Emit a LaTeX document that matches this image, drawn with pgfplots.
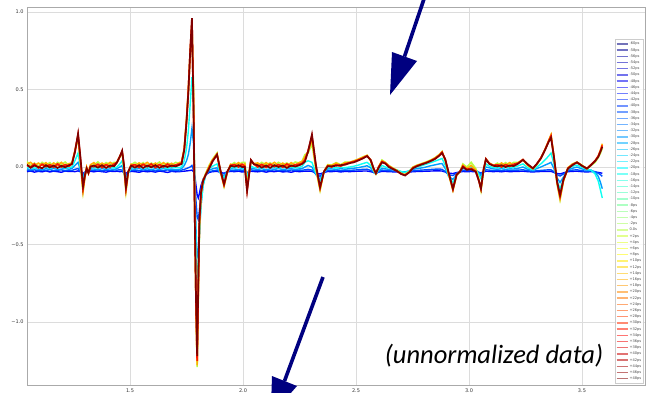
\documentclass[border=0pt]{standalone}
\usepackage{fontspec}
\setmainfont{DejaVu Sans}
\newfontfamily\annfont{Carlito}
\usepackage{pgfplots}
\usepackage{pgfplotstable}
\pgfplotsset{compat=1.18}
\definecolor{navyarrow}{RGB}{0,0,128}
\definecolor{gridgray}{RGB}{220,220,220}
\definecolor{spinegray}{RGB}{170,170,170}
\foreach \i in {0,...,54}{%
  \pgfmathsetmacro\jt{\i/54}%
  \pgfmathsetmacro\jr{max(0,min(1,1.5-abs(4*\jt-3)))}%
  \pgfmathsetmacro\jg{max(0,min(1,1.5-abs(4*\jt-2)))}%
  \pgfmathsetmacro\jb{max(0,min(1,1.5-abs(4*\jt-1)))}%
  \pgfmathsetmacro\qr{0.45+0.55*\jr}%
  \pgfmathsetmacro\qg{0.45+0.55*\jg}%
  \pgfmathsetmacro\qb{0.45+0.55*\jb}%
  \edef\tmp{\noexpand\xglobal\noexpand\definecolor{jet\i}{rgb}{\jr,\jg,\jb}}\tmp
  \edef\tmp{\noexpand\xglobal\noexpand\definecolor{jetp\i}{rgb}{\qr,\qg,\qb}}\tmp
}

\pgfplotstableread{
x a b c d e f g h
1.044 -0.030 -0.020 -0.012 -0.005 0.035 0.020 0.010 0.015
1.060 -0.026 -0.024 -0.016 -0.002 0.010 0.030 0.000 -0.005
1.077 -0.033 -0.018 -0.010 -0.008 0.025 0.008 0.020 0.010
1.094 -0.028 -0.025 -0.014 -0.003 0.005 0.025 -0.005 0.000
1.111 -0.031 -0.019 -0.018 -0.006 0.030 0.012 0.018 -0.008
1.128 -0.025 -0.023 -0.011 0.000 0.012 0.028 0.002 0.012
1.145 -0.032 -0.017 -0.015 -0.007 0.028 0.005 0.015 -0.003
1.162 -0.027 -0.024 -0.009 -0.002 0.002 0.026 -0.002 0.010
1.179 -0.030 -0.021 -0.016 -0.005 0.030 0.010 0.020 -0.006
1.196 -0.034 -0.018 -0.013 -0.001 0.015 0.030 0.000 0.008
1.213 -0.026 -0.025 -0.010 -0.006 0.032 0.008 0.015 -0.002
1.230 -0.029 -0.020 -0.014 -0.003 0.010 0.022 0.005 0.012
1.243 -0.028 -0.022 -0.010 0.000 0.030 0.025 0.020 0.020
1.256 -0.030 -0.015 0.010 0.040 0.100 0.105 0.100 0.095
1.270 -0.025 -0.010 0.030 0.090 0.190 0.200 0.210 0.215
1.280 -0.030 -0.030 -0.020 0.000 0.020 0.040 0.060 0.070
1.292 -0.040 -0.050 -0.060 -0.080 -0.160 -0.155 -0.140 -0.125
1.300 -0.035 -0.035 -0.040 -0.050 -0.070 -0.065 -0.060 -0.055
1.308 -0.028 -0.020 -0.015 -0.010 -0.005 0.000 -0.008 -0.010
1.316 -0.032 -0.028 -0.025 -0.030 -0.040 -0.035 -0.040 -0.038
1.325 -0.027 -0.020 -0.012 -0.004 0.010 0.015 0.005 0.002
1.340 -0.031 -0.022 -0.013 -0.004 0.012 0.028 0.002 0.010
1.358 -0.026 -0.018 -0.017 -0.007 0.033 0.006 0.018 -0.004
1.376 -0.030 -0.025 -0.011 -0.001 0.008 0.025 -0.004 0.012
1.394 -0.033 -0.020 -0.015 -0.005 0.028 0.010 0.016 -0.006
1.412 -0.027 -0.023 -0.012 -0.002 0.015 0.030 0.000 0.010
1.430 -0.029 -0.019 -0.016 -0.006 0.030 0.012 0.020 0.005
1.442 -0.027 -0.020 -0.010 0.000 0.030 0.032 0.030 0.028
1.455 -0.030 -0.018 0.000 0.020 0.065 0.070 0.068 0.068
1.465 -0.028 -0.020 0.010 0.040 0.090 0.100 0.102 0.105
1.473 -0.035 -0.040 -0.040 -0.030 -0.010 0.000 0.010 0.015
1.482 -0.040 -0.055 -0.070 -0.090 -0.160 -0.150 -0.140 -0.130
1.492 -0.032 -0.035 -0.035 -0.040 -0.040 -0.035 -0.030 -0.030
1.505 -0.028 -0.022 -0.012 -0.003 0.015 0.018 0.010 0.008
1.522 -0.030 -0.021 -0.014 -0.006 0.030 0.008 0.015 -0.004
1.540 -0.034 -0.025 -0.010 -0.002 0.010 0.026 -0.003 0.012
1.558 -0.027 -0.018 -0.016 -0.007 0.028 0.012 0.018 -0.006
1.576 -0.031 -0.023 -0.012 -0.003 0.006 0.030 0.002 0.010
1.594 -0.028 -0.019 -0.017 -0.005 0.025 0.006 0.020 -0.002
1.612 -0.033 -0.026 -0.011 -0.001 0.014 0.025 -0.004 0.012
1.630 -0.026 -0.020 -0.015 -0.006 0.032 0.010 0.016 -0.005
1.648 -0.030 -0.024 -0.010 -0.004 0.008 0.028 0.000 0.008
1.666 -0.035 -0.018 -0.016 -0.008 0.027 0.012 0.019 0.000
1.684 -0.028 -0.025 -0.013 -0.002 0.012 0.024 0.003 0.010
1.702 -0.031 -0.022 -0.018 -0.005 0.030 0.008 0.014 0.004
1.720 -0.030 -0.026 -0.015 -0.003 0.020 0.030 0.020 0.015
1.728 -0.028 -0.020 -0.010 0.000 0.030 0.030 0.025 0.020
1.740 -0.027 -0.015 0.010 0.040 0.120 0.120 0.115 0.110
1.750 -0.025 -0.010 0.040 0.120 0.300 0.310 0.300 0.290
1.758 -0.024 -0.005 0.080 0.230 0.480 0.500 0.490 0.480
1.766 -0.022 0.000 0.150 0.400 0.720 0.740 0.740 0.740
1.774 -0.020 0.010 0.250 0.580 0.900 0.930 0.950 0.960
1.781 -0.030 -0.020 0.150 0.400 0.500 0.450 0.400 0.350
1.787 -0.060 -0.100 -0.150 -0.150 -0.350 -0.380 -0.380 -0.380
1.792 -0.120 -0.220 -0.400 -0.500 -0.900 -0.900 -0.870 -0.850
1.797 -0.180 -0.320 -0.580 -0.720 -1.290 -1.280 -1.250 -1.220
1.802 -0.200 -0.340 -0.560 -0.650 -0.850 -0.820 -0.780 -0.750
1.807 -0.170 -0.280 -0.420 -0.450 -0.400 -0.380 -0.360 -0.340
1.814 -0.120 -0.180 -0.250 -0.250 -0.180 -0.170 -0.170 -0.165
1.823 -0.080 -0.100 -0.120 -0.120 -0.090 -0.085 -0.090 -0.090
1.835 -0.050 -0.050 -0.050 -0.050 -0.040 -0.045 -0.050 -0.050
1.850 -0.035 -0.030 -0.020 -0.010 0.010 0.005 -0.005 -0.010
1.865 -0.030 -0.025 -0.012 0.005 0.050 0.045 0.040 0.035
1.885 -0.028 -0.020 -0.005 0.020 0.090 0.085 0.080 0.080
1.900 -0.035 -0.035 -0.040 -0.040 -0.030 -0.030 -0.025 -0.020
1.916 -0.040 -0.045 -0.060 -0.070 -0.125 -0.120 -0.115 -0.110
1.930 -0.032 -0.030 -0.030 -0.030 -0.040 -0.035 -0.035 -0.030
1.945 -0.028 -0.022 -0.012 -0.004 0.012 0.018 0.010 0.008
1.962 -0.030 -0.024 -0.013 -0.005 0.028 0.010 0.016 0.002
1.980 -0.027 -0.019 -0.016 -0.002 0.010 0.028 0.000 0.012
1.996 -0.032 -0.023 -0.011 -0.006 0.030 0.012 0.018 0.000
2.008 -0.030 -0.025 -0.015 -0.005 0.030 0.020 0.005 0.000
2.018 -0.035 -0.040 -0.050 -0.060 -0.120 -0.140 -0.150 -0.155
2.026 -0.032 -0.030 -0.030 -0.030 -0.040 -0.050 -0.055 -0.060
2.035 -0.027 -0.018 -0.008 0.005 0.035 0.040 0.045 0.045
2.048 -0.029 -0.022 -0.012 -0.003 0.020 0.022 0.020 0.018
2.065 -0.031 -0.020 -0.015 -0.003 0.010 0.026 0.000 0.012
2.083 -0.027 -0.025 -0.011 -0.007 0.030 0.008 0.017 -0.004
2.102 -0.033 -0.019 -0.017 -0.002 0.012 0.028 -0.003 0.010
2.120 -0.028 -0.023 -0.012 -0.005 0.027 0.012 0.018 -0.005
2.139 -0.030 -0.018 -0.014 -0.001 0.008 0.030 0.002 0.012
2.157 -0.026 -0.024 -0.010 -0.006 0.030 0.010 0.016 0.000
2.176 -0.032 -0.021 -0.016 -0.003 0.014 0.025 -0.002 0.010
2.194 -0.029 -0.026 -0.013 -0.005 0.026 0.006 0.020 -0.006
2.213 -0.034 -0.019 -0.011 0.000 0.010 0.028 0.004 0.010
2.231 -0.027 -0.022 -0.015 -0.004 0.032 0.012 0.015 0.003
2.250 -0.030 -0.020 -0.012 -0.002 0.025 0.030 0.018 0.012
2.262 -0.028 -0.021 -0.010 0.005 0.040 0.035 0.025 0.020
2.274 -0.027 -0.018 0.000 0.030 0.080 0.065 0.045 0.035
2.288 -0.026 -0.015 0.010 0.040 0.090 0.100 0.105 0.100
2.305 -0.028 -0.020 0.000 0.030 0.150 0.180 0.200 0.210
2.323 -0.040 -0.045 -0.050 -0.040 -0.020 -0.010 0.000 0.010
2.341 -0.045 -0.060 -0.080 -0.090 -0.150 -0.145 -0.135 -0.130
2.358 -0.035 -0.035 -0.035 -0.030 -0.030 -0.030 -0.030 -0.030
2.375 -0.029 -0.022 -0.012 -0.004 0.015 0.012 0.008 0.005
2.392 -0.030 -0.023 -0.012 -0.003 0.012 0.010 0.000 0.005
2.412 -0.027 -0.019 -0.015 -0.006 0.028 0.025 0.015 0.008
2.432 -0.032 -0.024 -0.011 -0.002 0.015 0.012 0.005 0.012
2.452 -0.028 -0.020 -0.014 -0.004 0.032 0.028 0.020 0.015
2.472 -0.030 -0.022 -0.010 0.000 0.030 0.030 0.028 0.025
2.490 -0.028 -0.020 -0.008 0.005 0.040 0.038 0.035 0.030
2.510 -0.027 -0.018 -0.004 0.012 0.050 0.050 0.045 0.042
2.530 -0.026 -0.015 0.002 0.022 0.065 0.062 0.058 0.055
2.549 -0.026 -0.014 0.008 0.030 0.075 0.075 0.072 0.070
2.565 -0.030 -0.022 -0.005 0.010 0.040 0.045 0.045 0.045
2.578 -0.035 -0.035 -0.030 -0.025 -0.020 -0.015 -0.010 -0.010
2.588 -0.038 -0.045 -0.045 -0.045 -0.045 -0.042 -0.040 -0.040
2.600 -0.033 -0.030 -0.025 -0.015 0.000 0.000 0.000 -0.005
2.615 -0.028 -0.020 -0.008 0.010 0.045 0.040 0.035 0.030
2.630 -0.029 -0.022 -0.012 0.000 0.030 0.028 0.025 0.022
2.645 -0.030 -0.024 -0.015 -0.005 0.010 0.008 0.005 0.000
2.662 -0.031 -0.026 -0.018 -0.010 -0.005 -0.008 -0.010 -0.012
2.680 -0.032 -0.028 -0.022 -0.018 -0.020 -0.022 -0.025 -0.025
2.700 -0.034 -0.032 -0.030 -0.030 -0.040 -0.042 -0.045 -0.045
2.717 -0.035 -0.034 -0.032 -0.035 -0.048 -0.050 -0.052 -0.055
2.735 -0.033 -0.030 -0.025 -0.025 -0.030 -0.032 -0.035 -0.035
2.752 -0.030 -0.025 -0.015 -0.008 0.000 -0.002 -0.005 -0.008
2.770 -0.029 -0.022 -0.010 0.000 0.012 0.010 0.008 0.005
2.790 -0.028 -0.020 -0.006 0.008 0.022 0.020 0.018 0.016
2.810 -0.027 -0.018 0.000 0.018 0.032 0.030 0.028 0.026
2.830 -0.026 -0.016 0.008 0.028 0.045 0.042 0.040 0.038
2.850 -0.025 -0.014 0.014 0.038 0.060 0.058 0.055 0.052
2.868 -0.025 -0.013 0.020 0.048 0.080 0.078 0.075 0.072
2.881 -0.026 -0.015 0.022 0.055 0.100 0.098 0.095 0.090
2.895 -0.032 -0.030 -0.010 0.010 0.040 0.045 0.048 0.050
2.910 -0.040 -0.050 -0.060 -0.060 -0.050 -0.045 -0.040 -0.035
2.929 -0.042 -0.055 -0.080 -0.100 -0.150 -0.148 -0.145 -0.140
2.945 -0.036 -0.040 -0.050 -0.055 -0.055 -0.052 -0.050 -0.050
2.960 -0.032 -0.030 -0.030 -0.030 -0.030 -0.030 -0.030 -0.030
2.973 -0.029 -0.022 -0.010 0.000 0.020 0.012 0.005 0.000
2.990 -0.030 -0.024 -0.015 -0.008 0.000 -0.010 -0.015 -0.018
3.010 -0.029 -0.022 -0.010 0.000 0.030 0.010 -0.010 -0.015
3.030 -0.031 -0.026 -0.018 -0.015 -0.010 -0.020 -0.028 -0.030
3.044 -0.035 -0.035 -0.040 -0.050 -0.080 -0.085 -0.090 -0.090
3.053 -0.038 -0.040 -0.055 -0.075 -0.150 -0.145 -0.140 -0.140
3.064 -0.033 -0.030 -0.030 -0.030 -0.030 -0.025 -0.020 -0.020
3.075 -0.027 -0.018 0.000 0.020 0.050 0.052 0.052 0.050
3.090 -0.028 -0.020 -0.005 0.005 0.025 0.025 0.022 0.020
3.108 -0.030 -0.023 -0.012 -0.004 0.010 0.012 0.010 0.008
3.126 -0.028 -0.020 -0.014 -0.002 0.025 0.008 0.015 0.004
3.144 -0.031 -0.024 -0.011 -0.005 0.008 0.026 0.000 0.012
3.162 -0.027 -0.019 -0.015 -0.001 0.028 0.010 0.016 0.000
3.180 -0.030 -0.022 -0.012 -0.004 0.012 0.028 0.004 0.010
3.198 -0.029 -0.021 -0.013 -0.002 0.030 0.012 0.018 0.006
3.218 -0.028 -0.020 -0.008 0.008 0.030 0.028 0.025 0.022
3.239 -0.027 -0.018 0.000 0.020 0.045 0.048 0.048 0.046
3.260 -0.030 -0.024 -0.015 -0.005 0.010 0.012 0.015 0.018
3.283 -0.032 -0.028 -0.022 -0.018 -0.012 -0.010 -0.010 -0.008
3.300 -0.030 -0.024 -0.010 0.000 0.015 0.018 0.020 0.020
3.318 -0.029 -0.022 0.000 0.020 0.055 0.058 0.058 0.055
3.336 -0.028 -0.020 0.012 0.045 0.110 0.112 0.110 0.108
3.352 -0.028 -0.018 0.022 0.070 0.165 0.168 0.165 0.160
3.363 -0.028 -0.018 0.030 0.090 0.205 0.208 0.200 0.190
3.376 -0.035 -0.030 -0.010 0.020 0.060 0.065 0.065 0.065
3.390 -0.042 -0.050 -0.070 -0.090 -0.110 -0.105 -0.100 -0.095
3.403 -0.045 -0.058 -0.100 -0.140 -0.210 -0.205 -0.190 -0.180
3.418 -0.038 -0.045 -0.065 -0.080 -0.090 -0.088 -0.085 -0.080
3.438 -0.030 -0.025 -0.018 -0.010 -0.005 -0.005 -0.008 -0.010
3.458 -0.028 -0.020 -0.008 0.005 0.020 0.018 0.015 0.012
3.478 -0.027 -0.018 0.000 0.012 0.030 0.032 0.030 0.030
3.500 -0.030 -0.024 -0.012 -0.002 0.012 0.010 0.008 0.008
3.522 -0.032 -0.028 -0.020 -0.015 -0.012 -0.010 -0.010 -0.010
3.540 -0.030 -0.025 -0.020 -0.020 0.010 0.015 0.015 0.012
3.558 -0.032 -0.030 -0.035 -0.045 0.030 0.040 0.040 0.038
3.572 -0.035 -0.040 -0.060 -0.090 0.060 0.070 0.070 0.065
3.582 -0.038 -0.050 -0.100 -0.150 0.090 0.110 0.105 0.100
3.590 -0.040 -0.060 -0.140 -0.200 0.120 0.150 0.140 0.130
}\datatable

\begin{document}
\begin{tikzpicture}[x=1pt,y=1pt]
\begin{axis}[
  at={(27pt,7pt)}, anchor=south west,
  scale only axis, width=618pt, height=378pt,
  xmin=1.044, xmax=3.779, ymin=-1.406, ymax=1.032,
  axis line style={spinegray, line width=0.8pt},
  grid=major, major grid style={gridgray, line width=0.8pt},
  major tick length=0pt,
  xtick={1.5,2,2.5,3,3.5}, xticklabels={1.5,2.0,2.5,3.0,3.5},
  ytick={-1,-0.5,0,0.5,1}, yticklabels={−1.0,−0.5,0.0,0.5,1.0},
  tick label style={font=\fontsize{5}{6}\selectfont, text=black!80},
  legend cell align=left,
  legend style={at={(0.998,0.005)}, anchor=south east, draw=black!20,
    fill=white, fill opacity=0.85, text opacity=1, text=black!70,
    font=\fontsize{3.6}{4}\selectfont, inner sep=1.2pt, row sep=0pt,
    nodes={inner sep=1.1pt, text height=3pt, text depth=1pt},
    /tikz/every even column/.append style={column sep=1pt}},
  legend image code/.code={\draw[#1] (0pt,0pt) -- (11pt,0pt);},
  legend entries={-60ps,-58ps,-56ps,-54ps,-52ps,-50ps,-48ps,-46ps,-44ps,-42ps,-40ps,-38ps,-36ps,-34ps,-32ps,-30ps,-28ps,-26ps,-24ps,-22ps,-20ps,-18ps,-16ps,-14ps,-12ps,-10ps,-8ps,-6ps,-4ps,-2ps,0.0s,+2ps,+4ps,+6ps,+8ps,+10ps,+12ps,+14ps,+16ps,+18ps,+20ps,+22ps,+24ps,+26ps,+28ps,+30ps,+32ps,+34ps,+36ps,+38ps,+40ps,+42ps,+44ps,+46ps,+48ps},
]
\addplot[jet7, line width=1.4pt, forget plot] table[x=x,y=a]{\datatable};
\addplot[jet11, line width=1.4pt, forget plot] table[x=x,y=b]{\datatable};
\addplot[jet15, line width=1.4pt, forget plot] table[x=x,y=c]{\datatable};
\addplot[jet21, line width=1.4pt, forget plot] table[x=x,y=d]{\datatable};
\addplot[jet30, line width=1.6pt, forget plot] table[x=x,y=e]{\datatable};
\addplot[jet38, line width=1.6pt, forget plot] table[x=x,y=f]{\datatable};
\addplot[jet46, line width=1.7pt, forget plot] table[x=x,y=g]{\datatable};
\addplot[jet54, line width=1.7pt, forget plot] table[x=x,y=h]{\datatable};
\pgfplotsinvokeforeach{0,...,54}{\addlegendimage{jetp#1, line width=1.4pt}}
\end{axis}
\begin{scope}
\clip (0,0) rectangle (650,392);
\draw[navyarrow, line width=3.6pt] (425,396) -- (404.5,335.5);
\fill[navyarrow] (392,340) -- (417,331) -- (390,297) -- cycle;
\draw[navyarrow, line width=3.6pt] (323,115) -- (284.5,11);
\fill[navyarrow] (272,16) -- (297,6) -- (270.7,-24) -- cycle;
\node[anchor=base, inner sep=0pt] at (494,29) {\annfont\itshape\fontsize{26.5}{30}\selectfont (unnormalized data)};
\end{scope}
\pgfresetboundingbox
\useasboundingbox (0,0) rectangle (650,392);
\end{tikzpicture}
\end{document}
